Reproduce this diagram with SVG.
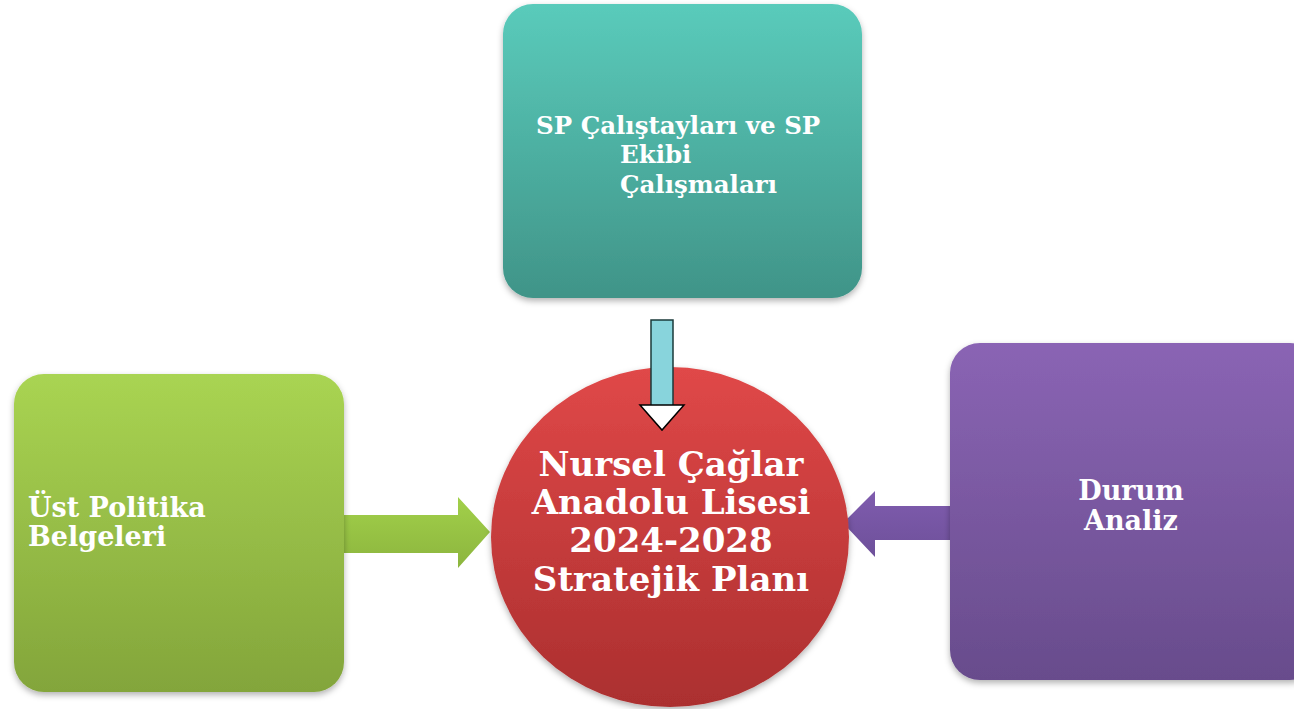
<svg xmlns="http://www.w3.org/2000/svg" width="1294" height="709" viewBox="0 0 1294 709">
<defs>
<linearGradient id="gTeal" x1="0" y1="0" x2="0" y2="1"><stop offset="0" stop-color="#5acbbb"/><stop offset="1" stop-color="#409488"/></linearGradient>
<linearGradient id="gGreen" x1="0" y1="0" x2="0" y2="1"><stop offset="0" stop-color="#a9d452"/><stop offset="1" stop-color="#83a53b"/></linearGradient>
<linearGradient id="gPurple" x1="0" y1="0" x2="0" y2="1"><stop offset="0" stop-color="#8a64b4"/><stop offset="1" stop-color="#684c8c"/></linearGradient>
<linearGradient id="gRed" x1="0" y1="0" x2="0" y2="1"><stop offset="0" stop-color="#e04848"/><stop offset="1" stop-color="#ab2f2f"/></linearGradient>
<linearGradient id="gGA" x1="0" y1="0" x2="0" y2="1"><stop offset="0" stop-color="#a2d04a"/><stop offset="1" stop-color="#8cb53e"/></linearGradient>
<linearGradient id="gPA" x1="0" y1="0" x2="0" y2="1"><stop offset="0" stop-color="#7f5cae"/><stop offset="1" stop-color="#6e509a"/></linearGradient>
<filter id="sh" x="-10%" y="-10%" width="120%" height="125%"><feDropShadow dx="0" dy="3" stdDeviation="3" flood-color="#000" flood-opacity="0.3"/></filter>
</defs>
<style>
text{font-family:"DejaVu Serif","Liberation Serif",serif;font-weight:bold;fill:#ffffff}
.box{filter:url(#sh)}
.t1{font-size:24.5px}
.t2{font-size:27px}
.t3{font-size:34px}
</style>
<g id="connectors">
<path d="M344,515 H458 V497 L490,532 L458,568 V553 H344 Z" fill="url(#gGA)"/>
<path d="M950,506 H875 V491 L843,523 L875,557 V540 H950 Z" fill="url(#gPA)"/>
</g>
<g id="node-teal"><rect class="box" x="503" y="4" width="359" height="294" rx="30" fill="url(#gTeal)"/>
<text class="t1" x="536" y="134">SP Çalıştayları ve SP</text>
<text class="t1" x="620" y="163">Ekibi</text>
<text class="t1" x="620" y="193">Çalışmaları</text></g>
<g id="node-green"><rect class="box" x="14" y="374" width="330" height="318" rx="30" fill="url(#gGreen)"/>
<text class="t2" x="28" y="517">Üst Politika</text>
<text class="t2" x="28" y="546">Belgeleri</text></g>
<g id="node-purple"><rect class="box" x="950" y="343" width="370" height="337" rx="30" fill="url(#gPurple)"/>
<text class="t2" x="1131" y="500" text-anchor="middle">Durum</text>
<text class="t2" x="1131" y="530" text-anchor="middle">Analiz</text></g>
<g id="node-center"><ellipse class="box" cx="670" cy="537" rx="179" ry="170" fill="url(#gRed)"/>
<text class="t3" x="671" y="476" text-anchor="middle">Nursel Çağlar</text>
<text class="t3" x="671" y="514" text-anchor="middle">Anadolu Lisesi</text>
<text class="t3" x="671" y="552" text-anchor="middle">2024-2028</text>
<text class="t3" x="671" y="591" text-anchor="middle">Stratejik Planı</text></g>
<g id="connector-down">
<rect x="651" y="320" width="22" height="86" fill="#88d4dc" stroke="#1a3a3a" stroke-width="1.5"/>
<path d="M640,405 H684 L662,430 Z" fill="#ffffff" stroke="#000" stroke-width="1.5" stroke-linejoin="miter"/>
</g>
</svg>
